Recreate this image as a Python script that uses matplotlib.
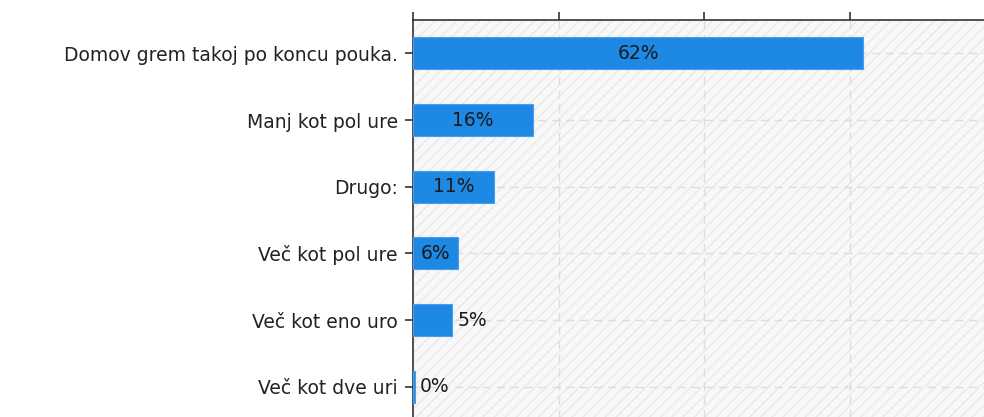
import matplotlib
matplotlib.use('Agg')
import matplotlib.pyplot as plt
from matplotlib.patches import Rectangle

plt.rcParams.update({
    'font.family': ['DejaVu Sans'],
    'font.size': 13.5,
    'hatch.linewidth': 1.0,
})

# data
categories = ['Domov grem takoj po koncu pouka.', 'Manj kot pol ure', 'Drugo:',
              'Več kot pol ure', 'Več kot eno uro', 'Več kot dve uri']
values = [61.9, 16.5, 11.2, 6.2, 5.4, 0.3]
labels = ['62%', '16%', '11%', '6%', '5%', '0%']
xticks = [0, 20, 40, 60, 80]

W, H = 984, 417
fig = plt.figure(figsize=(W / 100, H / 100), dpi=100)
# axes runs past the right and bottom edges, like the cropped original
ax = fig.add_axes([413 / W, -3 / H, 582 / W, 400 / H])

# hatched background
bg = Rectangle((0, 0), 1, 1, transform=ax.transAxes, facecolor='#f8f8f8',
               edgecolor='#e9e9e9', hatch='///', lw=0, zorder=0)
ax.add_patch(bg)
ax.patch.set_visible(False)

y = list(range(len(categories)))
ax.barh(y, values, height=0.48, color='#1e88e5', edgecolor='#4a9eea',
        lw=0.8, zorder=3)

for yi, v, lab in zip(y, values, labels):
    if v >= 6:
        ax.text(v / 2, yi, lab, ha='center', va='center', color='#1a1a1a',
                zorder=4)
    else:
        ax.annotate(lab, (v, yi), xytext=(3.5, 0), textcoords='offset points',
                    ha='left', va='center', color='#1a1a1a', zorder=4)

ax.set_xlim(0, 80)
ax.set_ylim(len(categories) - 0.5, -0.5)
ax.set_yticks(y)
ax.set_yticklabels(categories, color='#222222')
ax.set_xticks(xticks)
ax.set_xticklabels([])
ax.xaxis.tick_top()
ax.tick_params(axis='x', length=6, width=1.2, color='#333333')
ax.tick_params(axis='y', length=6, width=1.2, color='#333333', pad=5)

for xv in xticks[1:]:
    ax.axvline(xv, color='#dddddd', lw=1, ls=(0, (6, 4)), zorder=1)
for yi in y:
    ax.axhline(yi, color='#dddddd', lw=1, ls=(0, (6, 4)), zorder=1)

for s in ['right', 'bottom']:
    ax.spines[s].set_visible(False)
for s in ['left', 'top']:
    ax.spines[s].set_color('#333333')
    ax.spines[s].set_linewidth(1.2)

fig.savefig('out.png', dpi=100)
